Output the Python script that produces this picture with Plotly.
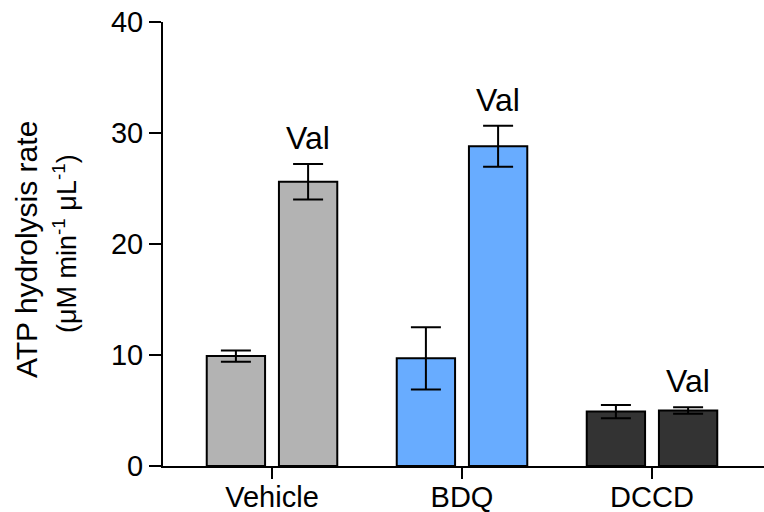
import plotly.graph_objects as go

# Treatments along the x axis
categories = ["Vehicle", "BDQ", "DCCD"]

# ATP hydrolysis rate (uM min^-1 uL^-1): mean and error for each treatment
control_mean = [9.9, 9.7, 4.9]
control_err = [0.5, 2.8, 0.6]
val_mean = [25.6, 28.8, 5.0]
val_err = [1.6, 1.85, 0.3]
val_label = "Val"

bar_colors = ["#b3b3b3", "#68acff", "#333333"]

y_ticks = [0, 10, 20, 30, 40]

FONT = "Arial, Liberation Sans, Helvetica, sans-serif"
SHIFT = 0.19      # half distance between the two bars of a group (axis units)
BAR_W = 0.307     # bar width (axis units)

idx = list(range(len(categories)))
x_ctrl = [i - SHIFT for i in idx]
x_val = [i + SHIFT for i in idx]

err_style = dict(type="data", visible=True, color="black", thickness=2, width=15)

fig = go.Figure()
fig.add_trace(go.Bar(
    x=x_ctrl, y=control_mean, width=BAR_W,
    marker=dict(color=bar_colors, line=dict(color="black", width=2)),
    error_y=dict(array=control_err, **err_style),
    showlegend=False, hoverinfo="skip",
))
fig.add_trace(go.Bar(
    x=x_val, y=val_mean, width=BAR_W,
    marker=dict(color=bar_colors, line=dict(color="black", width=2)),
    error_y=dict(array=val_err, **err_style),
    showlegend=False, hoverinfo="skip",
))

# "Val" labels above the valinomycin bars
for xv, m, e in zip(x_val, val_mean, val_err):
    fig.add_annotation(
        x=xv, y=m + e, text=val_label, showarrow=False,
        xref="x", yref="y", yanchor="bottom", yshift=6,
        font=dict(family=FONT, size=32, color="black"),
    )

# Two-line y axis title (pixel positions, converted to paper below)
fig.add_annotation(
    x=26, y=250, xref="paper", yref="paper", text="ATP hydrolysis rate",
    textangle=-90, showarrow=False,
    font=dict(family=FONT, size=30, color="black"),
)
fig.add_annotation(
    x=65, y=244, xref="paper", yref="paper",
    text="(μM min<sup>-1</sup> μL<sup>-1</sup>)",
    textangle=-90, showarrow=False,
    font=dict(family=FONT, size=27, color="black"),
)

W, H = 764, 512
L, R, T, B = 163, 0, 22, 46
px_per_cat = 190
left_edge = 272 - L
x0 = -left_edge / px_per_cat
x1 = x0 + (W - L - R) / px_per_cat

fig.update_layout(
    width=W, height=H,
    margin=dict(l=L, r=R, t=T, b=B, pad=0),
    paper_bgcolor="white", plot_bgcolor="white",
    font=dict(family=FONT, size=29, color="black"),
    barmode="overlay",
    xaxis=dict(
        range=[x0, x1], tickmode="array", tickvals=idx, ticktext=categories,
        showline=True, linecolor="black", linewidth=2,
        ticks="outside", ticklen=11, tickwidth=2, tickcolor="black",
        showgrid=False, zeroline=False, automargin=False,
        ticklabelstandoff=-7,
        tickfont=dict(family=FONT, size=29, color="black"),
    ),
    yaxis=dict(
        range=[0, 40], tickmode="array", tickvals=y_ticks,
        showline=True, linecolor="black", linewidth=2,
        ticks="outside", ticklen=12, tickwidth=2, tickcolor="black",
        showgrid=False, zeroline=False, automargin=False,
        tickfont=dict(family=FONT, size=29, color="black"),
    ),
)

# paper-referenced annotations above were given in pixels; convert to paper fractions
pw, ph = W - L - R, H - T - B
for ann in fig.layout.annotations:
    if ann.xref == "paper":
        ann.x = (ann.x - L) / pw
        ann.y = 1 - (ann.y - T) / ph
        ann.xanchor = "center"
        ann.yanchor = "middle"

fig.write_html("out.html")
